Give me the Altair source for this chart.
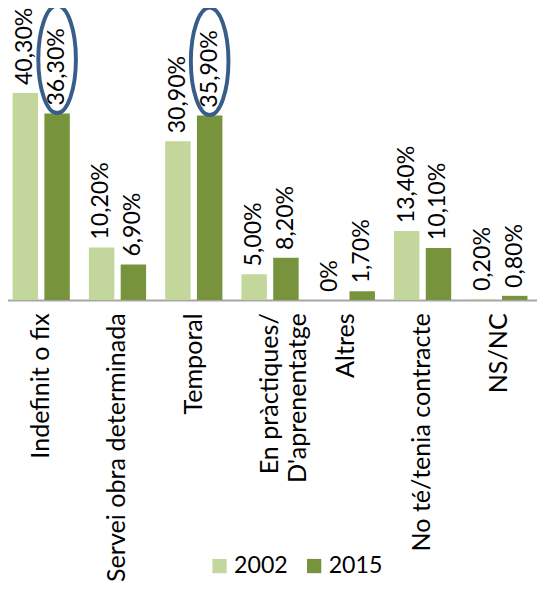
import altair as alt
import pandas as pd

categories = ["Indefinit o fix", "Servei obra determinada", "Temporal",
              "En pràctiques/|D'aprenentatge", "Altres", "No té/tenia contracte", "NS/NC"]
years = ["2002", "2015"]
v2002 = [40.3, 10.2, 30.9, 5.0, 0.0, 13.4, 0.2]
v2015 = [36.3, 6.9, 35.9, 8.2, 1.7, 10.1, 0.8]
highlighted = ["Indefinit o fix", "Temporal"]
highlight_year = "2015"

rows = []
for c, a, b in zip(categories, v2002, v2015):
    rows.append({"cat": c, "year": "2002", "value": a})
    rows.append({"cat": c, "year": "2015", "value": b})
df = pd.DataFrame(rows)
df["hl"] = df.apply(lambda r: r["cat"] in highlighted and r["year"] == highlight_year, axis=1)

FONT = "Lato"

base = alt.Chart(df).encode(
    x=alt.X("cat:N", sort=categories,
            scale=alt.Scale(paddingInner=0.25, paddingOuter=0.125),
            axis=alt.Axis(title=None, labelAngle=-90, labelFontSize=25.5, labelFont=FONT,
                          labelColor="black", labelPadding=13, ticks=False,
                          domainColor="#A6A6A6", domainWidth=2, labelLineHeight=29,
                          labelExpr="split(datum.label, '|')", labelLimit=400)),
    xOffset=alt.XOffset("year:N", sort=years, scale=alt.Scale(paddingInner=0.2, paddingOuter=0)),
    y=alt.Y("value:Q", scale=alt.Scale(domain=[0, 56.0]), axis=None),
)

bars = base.mark_bar().encode(
    color=alt.Color("year:N", sort=years,
                    scale=alt.Scale(domain=years, range=["#C3D69B", "#77933C"]),
                    legend=alt.Legend(title=None, orient="none", direction="horizontal",
                                      legendX=208, legendY=550, symbolType="square",
                                      symbolSize=210, symbolStrokeWidth=0, labelOffset=3,
                                      labelFontSize=23.5, labelFont=FONT, labelColor="black",
                                      columnPadding=14, symbolOpacity=1))
)

labels = base.mark_text(angle=270, align="left", baseline="middle", dx=8,
                        fontSize=23.5, font=FONT, color="black").transform_calculate(
    label="datum.value == 0 ? '0%' : replace(format(datum.value, '.2f'), '.', ',') + '%'"
).encode(text="label:N")

ellipse_path = "M0,-1 A0.35,1 0 1,1 0,1 A0.35,1 0 1,1 0,-1 Z"
ellipses = base.mark_point(shape=ellipse_path, filled=False, stroke="#385D8A",
                           strokeWidth=4, size=11900, opacity=1, yOffset=-55).transform_filter(
    "datum.hl"
)

chart = alt.layer(bars, labels, ellipses).properties(
    width=542, height=292,
    autosize=alt.AutoSizeParams(type="none"),
    padding={"left": -5, "top": 0, "right": 0, "bottom": 285},
).configure_view(stroke=None)

chart.save("out.html", embed_options={"renderer": "svg", "actions": False})
